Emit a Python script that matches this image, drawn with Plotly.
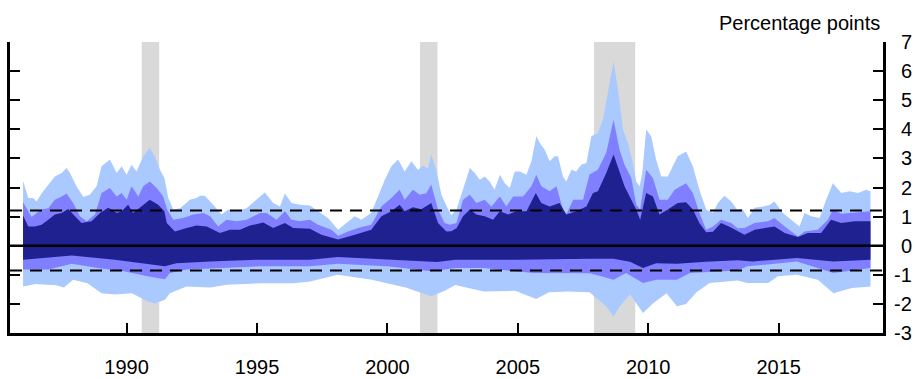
import plotly.graph_objects as go

# ---------------- data (percentage points) ----------------
light_up_t = [1986.03,1986.10,1986.23,1986.42,1986.55,1986.74,1987.00,1987.25,1987.51,1987.70,1987.83,1988.08,1988.34,1988.59,1988.85,1989.04,1989.36,1989.62,1989.81,1990.00,1990.19,1990.38,1990.64,1990.89,1991.08,1991.28,1991.45,1991.60,1991.79,1992.05,1992.43,1992.68,1992.81,1993.00,1993.32,1993.64,1993.90,1994.22,1994.60,1994.98,1995.30,1995.62,1995.88,1996.07,1996.32,1996.64,1997.03,1997.34,1997.72,1998.11,1998.49,1998.75,1999.00,1999.38,1999.64,1999.90,2000.15,2000.41,2000.66,2000.92,2001.17,2001.36,2001.56,2001.68,2001.87,2002.07,2002.30,2002.45,2002.65,2002.90,2003.16,2003.35,2003.54,2003.73,2003.92,2004.11,2004.31,2004.50,2004.69,2004.88,2005.07,2005.33,2005.52,2005.71,2005.84,2006.03,2006.22,2006.41,2006.54,2006.73,2006.86,2007.05,2007.24,2007.43,2007.63,2007.82,2008.07,2008.26,2008.45,2008.67,2008.84,2009.03,2009.22,2009.41,2009.54,2009.67,2009.77,2009.92,2010.11,2010.30,2010.50,2010.75,2010.94,2011.13,2011.45,2011.71,2011.96,2012.22,2012.48,2012.67,2012.92,2013.18,2013.40,2013.63,2013.82,2014.08,2014.40,2014.65,2014.84,2015.16,2015.48,2015.80,2015.99,2016.25,2016.57,2016.82,2017.08,2017.40,2017.72,2018.04,2018.35,2018.52]
light_up_v = [2.23,2.04,1.64,1.64,1.52,1.79,2.10,2.38,2.50,2.67,2.50,2.04,1.67,1.75,2.04,2.73,2.96,2.50,2.73,2.44,2.78,2.55,3.07,3.36,3.07,2.61,2.33,1.64,1.24,1.29,1.58,1.64,1.72,1.72,1.41,1.07,1.24,1.18,1.29,1.58,1.83,1.47,1.35,1.79,1.47,1.41,1.38,1.18,0.95,0.55,0.84,1.01,0.89,1.12,1.69,2.27,2.73,2.96,2.55,2.90,2.61,2.75,2.65,3.13,2.61,1.75,1.30,1.05,1.24,1.92,2.67,2.50,2.27,2.38,2.21,1.92,2.44,2.15,1.98,2.55,2.55,2.44,2.90,3.76,3.53,3.30,2.90,3.07,3.07,2.38,2.21,2.61,2.55,2.78,2.84,3.76,3.87,4.33,5.25,6.33,5.36,3.99,3.53,2.84,2.21,2.04,2.50,3.99,3.76,2.96,2.38,2.38,2.73,3.07,3.24,2.73,1.92,1.24,1.13,1.47,1.72,1.52,1.25,1.24,0.95,1.30,1.35,1.40,1.52,1.12,0.89,0.66,1.12,1.01,0.95,1.58,2.15,1.81,1.87,1.81,1.92,1.87]

mid_up_t = [1986.03,1986.17,1986.36,1986.55,1986.74,1987.00,1987.25,1987.51,1987.70,1987.95,1988.21,1988.47,1988.79,1989.04,1989.36,1989.62,1989.81,1990.00,1990.19,1990.45,1990.64,1990.89,1991.15,1991.40,1991.55,1991.79,1992.17,1992.56,1992.94,1993.20,1993.51,1993.83,1994.22,1994.60,1995.11,1995.37,1995.75,1996.07,1996.32,1996.64,1997.03,1997.34,1997.85,1998.11,1998.49,1998.87,1999.38,1999.77,2000.15,2000.47,2000.66,2000.98,2001.24,2001.49,2001.68,2001.94,2002.19,2002.40,2002.65,2002.90,2003.16,2003.41,2003.73,2003.99,2004.31,2004.56,2004.82,2005.20,2005.52,2005.71,2005.90,2006.22,2006.48,2006.73,2006.86,2007.12,2007.50,2007.75,2008.07,2008.39,2008.67,2008.90,2009.09,2009.35,2009.54,2009.69,2009.92,2010.18,2010.43,2010.75,2011.01,2011.45,2011.71,2011.96,2012.22,2012.48,2012.79,2013.18,2013.43,2013.69,2014.08,2014.59,2014.84,2015.23,2015.74,2015.99,2016.50,2016.89,2017.08,2017.40,2017.91,2018.52]
mid_up_v = [1.49,1.29,0.99,1.12,1.24,1.29,1.58,1.69,1.79,1.47,1.01,0.84,1.07,1.81,1.98,1.69,1.81,1.58,2.04,1.69,2.04,2.21,1.98,1.70,1.25,0.89,0.95,1.07,1.12,1.01,0.66,0.89,0.84,0.89,1.12,1.12,0.89,1.18,0.89,0.84,0.89,0.72,0.55,0.34,0.49,0.61,0.72,1.35,1.64,1.92,1.58,1.92,1.75,1.80,2.10,1.24,0.78,0.72,0.78,1.58,1.75,1.47,1.58,1.35,1.69,1.35,1.69,1.69,2.04,2.44,2.04,1.87,2.04,1.24,1.07,1.58,1.58,2.45,2.61,3.19,4.33,3.30,2.78,2.33,1.41,1.24,2.61,2.33,1.58,1.58,1.92,2.15,1.81,1.13,0.55,0.66,0.89,0.78,0.60,0.61,0.78,0.84,0.95,0.66,0.32,0.49,0.55,0.89,1.24,1.10,1.14,1.18]

dark_up_t = [1986.03,1986.23,1986.49,1986.74,1987.00,1987.25,1987.51,1987.76,1988.02,1988.27,1988.66,1988.98,1989.30,1989.62,1989.81,1990.06,1990.25,1990.57,1990.89,1991.21,1991.45,1991.54,1991.85,1992.30,1992.68,1993.07,1993.32,1993.58,1993.96,1994.35,1994.73,1995.24,1995.62,1996.07,1996.39,1997.03,1997.47,1998.11,1998.75,1999.38,1999.77,2000.15,2000.47,2000.66,2000.98,2001.30,2001.68,2001.94,2002.26,2002.45,2002.65,2002.90,2003.16,2003.41,2003.73,2004.05,2004.31,2004.63,2004.94,2005.33,2005.69,2005.90,2006.22,2006.60,2006.86,2007.24,2007.63,2007.88,2008.07,2008.39,2008.67,2008.90,2009.09,2009.35,2009.54,2009.69,2009.92,2010.18,2010.43,2010.75,2011.13,2011.45,2011.71,2011.96,2012.22,2012.48,2012.79,2013.11,2013.43,2013.69,2014.08,2014.46,2014.84,2015.23,2015.74,2016.12,2016.63,2017.01,2017.40,2017.91,2018.52]
dark_up_v = [1.04,0.66,0.66,0.72,0.89,1.07,1.12,1.26,1.01,0.78,0.84,1.12,1.30,1.12,1.18,1.41,1.12,1.35,1.58,1.41,1.18,0.78,0.49,0.61,0.69,0.66,0.55,0.44,0.55,0.55,0.69,0.80,0.61,0.78,0.61,0.58,0.38,0.21,0.38,0.55,1.01,1.18,1.41,1.18,1.32,1.25,1.47,0.78,0.49,0.50,0.60,1.01,1.24,1.07,1.01,0.89,1.18,1.07,1.18,1.18,1.81,1.47,1.35,1.47,1.07,1.18,1.35,1.81,1.87,2.50,3.13,2.50,2.04,1.58,1.24,0.89,1.81,1.69,1.07,1.24,1.47,1.49,1.24,0.78,0.46,0.48,0.78,0.65,0.49,0.38,0.55,0.61,0.66,0.44,0.30,0.44,0.44,0.89,0.78,0.84,0.84]

dark_dn_t = [1986.03,1987.90,1989.55,1991.08,1991.47,1991.90,1993.20,1995.10,1997.03,1998.10,2000.00,2001.90,2002.60,2005.00,2007.75,2008.67,2009.30,2009.80,2010.30,2011.10,2012.20,2013.43,2014.00,2015.70,2017.10,2018.52]
dark_dn_v = [-0.48,-0.34,-0.48,-0.65,-0.71,-0.60,-0.54,-0.48,-0.48,-0.39,-0.48,-0.56,-0.48,-0.48,-0.45,-0.45,-0.55,-0.77,-0.60,-0.62,-0.55,-0.50,-0.54,-0.42,-0.54,-0.48]

mid_dn_t = [1986.03,1986.50,1987.00,1987.90,1988.90,1989.90,1990.80,1991.47,1991.66,1992.30,1993.83,1995.10,1997.03,1998.10,2000.00,2001.68,2002.60,2003.70,2005.60,2007.75,2008.20,2008.67,2009.15,2009.80,2010.30,2011.10,2011.60,2013.43,2013.80,2015.70,2017.10,2018.52]
mid_dn_v = [-0.82,-0.82,-0.82,-0.62,-0.77,-0.88,-1.05,-1.15,-0.94,-0.82,-0.77,-0.71,-0.71,-0.62,-0.71,-0.88,-0.77,-0.77,-0.94,-0.95,-1.05,-1.17,-0.94,-1.28,-1.17,-1.17,-0.94,-0.85,-0.71,-0.54,-0.94,-0.77]

light_dn_t = [1986.03,1986.50,1987.30,1987.60,1987.95,1988.50,1989.04,1989.55,1990.20,1990.80,1991.08,1991.47,1991.66,1992.30,1993.20,1993.83,1995.10,1996.40,1997.03,1998.10,1999.40,2000.70,2001.68,2002.20,2002.60,2003.70,2004.90,2005.70,2006.20,2006.90,2007.75,2008.07,2008.40,2008.67,2008.90,2009.30,2009.80,2010.20,2010.70,2011.10,2011.45,2011.85,2012.35,2013.43,2013.80,2014.60,2014.97,2015.70,2016.50,2017.10,2017.80,2018.52]
light_dn_v = [-1.40,-1.32,-1.36,-1.44,-1.17,-1.29,-1.63,-1.68,-1.63,-1.91,-1.99,-1.86,-1.63,-1.40,-1.44,-1.34,-1.29,-1.29,-1.23,-1.00,-1.17,-1.44,-1.74,-1.55,-1.35,-1.57,-1.55,-1.83,-1.60,-1.57,-1.60,-1.85,-2.10,-2.43,-2.10,-1.67,-2.31,-1.97,-1.63,-2.08,-2.00,-1.60,-1.28,-1.20,-1.28,-1.28,-1.05,-1.00,-1.17,-1.63,-1.45,-1.40]

recession_start = [1990.58, 2001.25, 2007.92]
recession_end = [1991.25, 2001.92, 2009.50]

upper_ref = 1.21
lower_ref = -0.85

x_ticks = [1990, 1995, 2000, 2005, 2010, 2015]
y_ticks = [-3, -2, -1, 0, 1, 2, 3, 4, 5, 6, 7]
y_tick_labels = ["-3", "-2", "-1", "0", "1", "2", "3", "4", "5", "6", "7"]

LIGHT = "#a9c9ff"
MID = "#7f7fff"
DARK = "#1f2191"
GRAY = "#d9d9d9"
FONT = "Liberation Sans, Arial, Helvetica, sans-serif"
FS = 20

fig = go.Figure()

def band(t, v, color):
    fig.add_trace(go.Scatter(x=t, y=v, mode="lines", fill="tozeroy",
                             fillcolor=color, line=dict(width=0, color=color),
                             hoverinfo="skip", showlegend=False))

band(light_up_t, light_up_v, LIGHT)
band(light_dn_t, light_dn_v, LIGHT)
band(mid_up_t, mid_up_v, MID)
band(mid_dn_t, mid_dn_v, MID)
band(dark_up_t, dark_up_v, DARK)
band(dark_dn_t, dark_dn_v, DARK)

for s, e in zip(recession_start, recession_end):
    fig.add_vrect(x0=s, x1=e, fillcolor=GRAY, opacity=1, line_width=0, layer="below")

fig.add_hline(y=upper_ref, line=dict(color="black", width=2, dash="12px,8px"))
fig.add_hline(y=lower_ref, line=dict(color="black", width=2, dash="12px,8px"))
fig.add_hline(y=0, line=dict(color="black", width=2.5))

fig.update_layout(
    width=915, height=379,
    margin=dict(l=10, r=32, t=42, b=46, autoexpand=False),
    paper_bgcolor="white", plot_bgcolor="white",
    font=dict(family=FONT, size=FS, color="black"),
    showlegend=False,
    xaxis=dict(range=[1985.53, 2019.0], tickvals=x_ticks, ticks="inside",
               ticklen=10, tickwidth=2, tickcolor="black", showline=True,
               linecolor="black", linewidth=2.5, showgrid=False, zeroline=False,
               ticklabelstandoff=14, tickfont=dict(size=FS), automargin=False),
    yaxis=dict(range=[-3, 7], tickvals=y_ticks, side="right", ticks="inside",
               ticklen=10, tickwidth=2, tickcolor="black", showline=True,
               linecolor="black", linewidth=2.5, showgrid=False, zeroline=False,
               showticklabels=False, automargin=False),
    yaxis2=dict(range=[-3, 7], tickvals=y_ticks, side="left", overlaying="y",
                ticks="inside", ticklen=10, tickwidth=2, tickcolor="black",
                showline=True, linecolor="black", linewidth=2.5,
                showticklabels=False, showgrid=False, zeroline=False,
                automargin=False),
)

# empty trace so the left axis is rendered
fig.add_trace(go.Scatter(x=[None], y=[None], yaxis="y2", showlegend=False, hoverinfo="skip"))

# right-aligned y tick labels on the right side
for v, lab in zip(y_ticks, y_tick_labels):
    fig.add_annotation(text=lab, xref="paper", yref="y", x=1.0, y=v,
                       xanchor="right", yanchor="middle", xshift=31,
                       showarrow=False, font=dict(family=FONT, size=FS, color="black"))

fig.add_annotation(text="Percentage points", xref="paper", yref="paper",
                   x=1.0, y=1.0, xanchor="right", yanchor="bottom", yshift=6, xshift=-1,
                   showarrow=False, font=dict(family=FONT, size=FS, color="black"))

fig.write_html("out.html", config={"displayModeBar": False},
               post_script="document.body.style.margin='0';document.body.style.overflow='hidden';")
